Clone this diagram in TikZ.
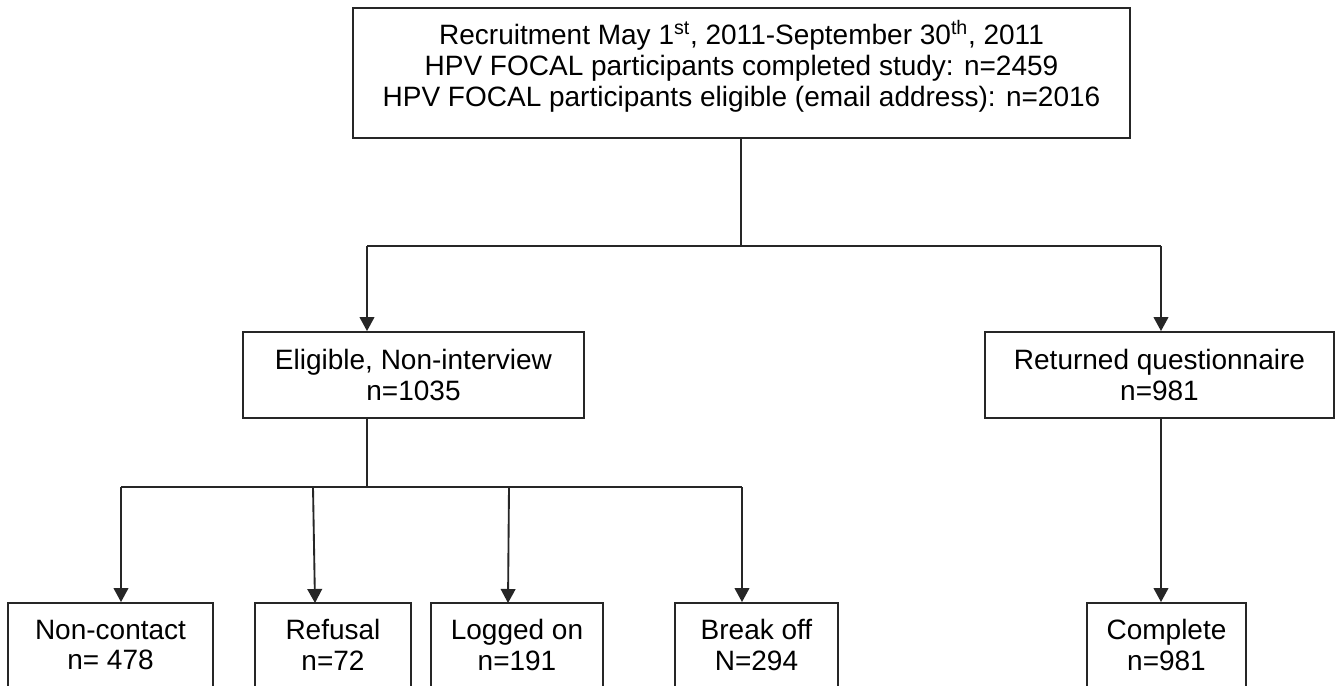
\documentclass[tikz,border=0pt]{standalone}
\usepackage{fontspec}
\setmainfont{Liberation Sans}
\usetikzlibrary{arrows.meta}
\begin{document}
\begin{tikzpicture}[x=0.75pt,y=-0.75pt,
  box/.style={draw=black!85, line width=1.4pt, rectangle, inner sep=0pt, align=center},
  txt/.style={align=center, inner sep=0pt, font=\fontsize{21}{23.2}\selectfont},
  conn/.style={draw=black!85, line width=1.4pt},
  arr/.style={conn, -{Triangle[length=10.5pt, width=11pt]}}]
\useasboundingbox[fill=white] (0,0) rectangle (1340,686);
% boxes (pixel coordinates, y downwards)
\node[box, minimum width=777*0.75pt, minimum height=130*0.75pt] (top) at (741.5,73) {};
\node[txt] (toptxt) at (741.5,66) {Recruitment May 1\textsuperscript{st}, 2011-September 30\textsuperscript{th}, 2011\\HPV FOCAL participants completed study: n=2459\\HPV FOCAL participants eligible (email address): n=2016};
\node[box, txt, minimum width=341*0.75pt, minimum height=86*0.75pt] (elig) at (413.5,375) {Eligible, Non-interview\\n=1035};
\node[box, txt, minimum width=349*0.75pt, minimum height=86*0.75pt] (ret) at (1159.5,375) {Returned questionnaire\\n=981};
\node[box, txt, minimum width=205*0.75pt, minimum height=84*0.75pt] (nc) at (110.5,645) {Non-contact\\n= 478};
\node[box, txt, minimum width=156*0.75pt, minimum height=84*0.75pt] (ref) at (333,645) {Refusal\\n=72};
\node[box, txt, minimum width=172*0.75pt, minimum height=84*0.75pt] (log) at (517,645) {Logged on\\n=191};
\node[box, txt, minimum width=163*0.75pt, minimum height=84*0.75pt] (brk) at (756.5,645) {Break off\\N=294};
\node[box, txt, minimum width=159*0.75pt, minimum height=84*0.75pt] (comp) at (1166.5,645) {Complete\\n=981};
% junction coordinates
\coordinate (j1) at (741,246);
\coordinate (j1l) at (367,246);
\coordinate (j1r) at (1161,246);
\coordinate (j2) at (367,487);
\coordinate (a1) at (121,487);
\coordinate (a2) at (313,487);
\coordinate (a2e) at (315,603);
\coordinate (a3) at (509,487);
\coordinate (a3e) at (508,603);
\coordinate (a4) at (742,487);
% connectors
\draw[conn] (top.south -| j1) -- (j1);
\draw[conn] (j1l) -- (j1r);
\draw[arr] (j1l) -- (j1l |- elig.north);
\draw[arr] (j1r) -- (j1r |- ret.north);
\draw[conn] (elig.south -| j2) -- (j2);
\draw[conn] (a1) -- (a4);
\draw[arr] (a1) -- (a1 |- nc.north);
\draw[arr] (a2) -- (a2e);
\draw[arr] (a3) -- (a3e);
\draw[arr] (a4) -- (a4 |- brk.north);
\draw[arr] (ret.south -| j1r) -- (j1r |- comp.north);
\end{tikzpicture}
\end{document}
